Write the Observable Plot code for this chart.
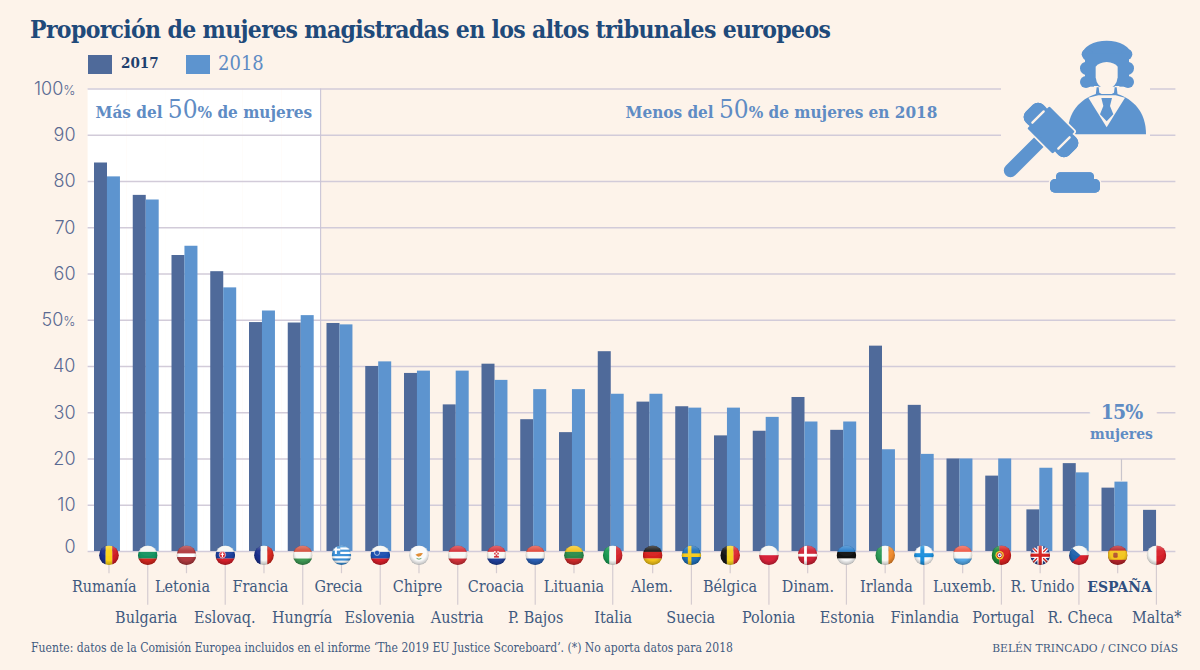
<!DOCTYPE html>
<html><head><meta charset="utf-8">
<script src="https://cdn.jsdelivr.net/npm/d3@7"></script>
<script src="https://cdn.jsdelivr.net/npm/@observablehq/plot@0.6"></script>
<style>
html,body{margin:0;padding:0;background:#fdf3ea;}
body{width:1200px;height:670px;position:relative;overflow:hidden;font-family:"DejaVu Serif Condensed","DejaVu Serif",serif;}
#head{position:relative;height:75px;}
h1{position:absolute;left:30px;top:14px;margin:0;font-size:24.5px;line-height:32px;font-weight:700;letter-spacing:-.67px;color:#1f4a7a;white-space:nowrap;}
.sw{position:absolute;top:55px;width:24px;height:19px;}
.lg{position:absolute;white-space:nowrap;}
#cap{position:relative;height:40px;color:#3f5a80;}
#cap span{position:absolute;top:11px;white-space:nowrap;}
#chart svg{display:block;background:transparent;}
#icon{position:absolute;left:950px;top:20px;}
</style></head><body>
<div id="head">
<h1>Proporción de mujeres magistradas en los altos tribunales europeos</h1>
<div class="sw" style="left:88px;background:#4f6a9a"></div>
<div class="lg" style="left:121px;top:54px;font-size:15px;font-weight:700;color:#1f3f6e">2017</div>
<div class="sw" style="left:186px;background:#5d94cf"></div>
<div class="lg" style="left:218px;top:51px;font-size:20px;color:#5f8cc4">2018</div>
</div>
<div id="chart"></div>
<div id="cap"><span style="left:31px;font-size:12.05px">Fuente: datos de la Comisión Europea incluidos en el informe ‘The 2019 EU Justice Scoreboard’. (*) No aporta datos para 2018</span><span style="right:22px;font-size:11.9px">BELÉN TRINCADO / CINCO DÍAS</span></div>
<svg id="icon" width="250" height="190" viewBox="0 0 750 570">
<rect x="153" y="150" width="447" height="210" fill="#fdf3ea"/>
<g fill="#5d94cf">
<ellipse cx="470" cy="103" rx="72" ry="41"/><circle cx="412" cy="103" r="17"/><circle cx="530" cy="103" r="17"/>
<circle cx="410" cy="145" r="20"/><circle cx="532" cy="145" r="20"/><circle cx="408" cy="186" r="18"/><circle cx="534" cy="186" r="18"/>
<rect x="405" y="100" width="132" height="100"/>
</g>
<path d="M437 140Q446 128 470 126Q494 128 503 140L503 172Q500 203 470 209Q440 203 437 172Z" fill="#fdf3ea"/>
<path d="M432 198L445 198L447 212Q470 228 493 212L495 198L508 198L510 232L430 232Z" fill="#fdf3ea"/>
<path d="M440 202L446 202L448 218Q470 234 492 218L494 202L500 202L503 226L437 226Z" fill="#5d94cf"/>
<path d="M353 343C353 275 390 238 438 222L502 222C550 238 588 275 588 343Z" fill="#5d94cf"/>
<path d="M415 233L445 226L497 226L525 233L470 322Z" fill="#fdf3ea"/>
<path d="M454 234L486 234L480 258L490 283L470 304L450 283L460 258Z" fill="#5d94cf"/>
<g transform="translate(303 330) rotate(45)">
<rect x="-20" y="0" width="40" height="192" rx="20" fill="#5d94cf"/>
<g fill="#5d94cf" stroke="#fdf3ea" stroke-width="10" paint-order="stroke">
<rect x="-92" y="-37" width="184" height="74" rx="22"/>
<rect x="-54" y="-47" width="108" height="94" rx="4"/>
</g>
<rect x="-92" y="-37" width="184" height="74" rx="22" fill="#5d94cf"/>
<path d="M-55 -24V24M55 -24V24" stroke="#fdf3ea" stroke-width="7" stroke-linecap="round"/>
</g>
<g fill="#5d94cf" stroke="#fdf3ea" stroke-width="10" paint-order="stroke">
<rect x="318" y="457" width="114" height="36" rx="13"/>
<rect x="300" y="477" width="150" height="41" rx="15"/>
</g>
<g fill="#5d94cf"><rect x="318" y="457" width="114" height="36" rx="13"/><rect x="300" y="477" width="150" height="41" rx="15"/></g>
</svg>
<script>
const countries = ["Rumanía","Bulgaria","Letonia","Eslovaq.","Francia","Hungría","Grecia","Eslovenia","Chipre","Austria","Croacia","P. Bajos","Lituania","Italia","Alem.","Suecia","Bélgica","Polonia","Dinam.","Estonia","Irlanda","Finlandia","Luxemb.","Portugal","R. Unido","R. Checa","ESPAÑA","Malta*"];
const values2017 = [84,77,64,60.5,49.5,49.4,49.3,40,38.5,31.7,40.5,28.5,25.7,43.2,32.3,31.3,25,26,33.3,26.2,44.4,31.6,20,16.3,9,19,13.7,8.9];
const values2018 = [81,76,66,57,52,51,49,41,39,39,37,35,35,34,34,31,31,29,28,28,22,21,20,20,18,17,15,null];
const yTicks = [0,10,20,30,40,50,60,70,80,90,100];
const above50 = countries.slice(0,6);

const PAPER="#fdf3ea", C17="#4f6a9a", C18="#5d94cf", GRID="#d2cbd9", INK="#3f5a80", SOFT="#5f8cc4";
const SERIF='"DejaVu Serif Condensed","DejaVu Serif",serif';

// layout tweaks (px), kept apart from the data
const labelNudge=[-3.2,0,-2.5,1,-2,1,-1.5,1,0,1,1,2,1.5,2,2,2,2.5,2.5,3,3.5,4,3.5,4.5,4.5,5,4,4.5,3];
const barNudge={"R. Unido":2.4,"Malta*":2.8};

const V=(...c)=>c.map((k,i)=>`<rect x="${i*100/c.length}" y="0" width="${100/c.length+.5}" height="100" fill="${k}"/>`).join("");
const H=(...c)=>c.map((k,i)=>`<rect y="${i*100/c.length}" x="0" height="${100/c.length+.5}" width="100" fill="${k}"/>`).join("");
const cross=(bg,fg,w=18)=>`<rect width="100" height="100" fill="${bg}"/><rect x="32" width="${w}" height="100" fill="${fg}"/><rect y="${50-w/2}" width="100" height="${w}" fill="${fg}"/>`;
const flagArt={
"Rumanía":V("#1b2f8c","#fcd116","#d01c24"),
"Bulgaria":H("#f6f6f2","#12935f","#d5261e"),
"Letonia":`<rect width="100" height="100" fill="#b03a3f"/><rect y="41" width="100" height="18" fill="#fff"/>`,
"Eslovaq.":H("#f6f6f2","#1b3f9c","#d81e2a")+`<circle cx="36" cy="48" r="16" fill="#d81e2a" stroke="#fff" stroke-width="3"/><rect x="33" y="36" width="6" height="24" fill="#fff"/><rect x="27" y="43" width="18" height="5" fill="#fff"/>`,
"Francia":V("#1b2f8c","#f6f6f2","#d5261e"),
"Hungría":H("#d4503e","#f8f8f4","#3f9a55"),
"Grecia":`<rect width="100" height="100" fill="#fff"/>`+[0,22,44,66,88].map(y=>`<rect y="${y}" width="100" height="11" fill="#3a8fd6"/>`).join("")+`<rect width="44" height="44" fill="#3a8fd6"/><rect x="17" width="10" height="44" fill="#fff"/><rect y="17" width="44" height="10" fill="#fff"/>`,
"Eslovenia":H("#f6f6f2","#1b4fb0","#d81e2a")+`<circle cx="34" cy="38" r="13" fill="#1b4fb0" stroke="#fff" stroke-width="3"/>`,
"Chipre":`<rect width="100" height="100" fill="#fafafa"/><path d="M32 48Q50 36 70 40Q62 56 46 58Z" fill="#e08a2e"/><path d="M38 66Q50 74 62 66" stroke="#4a9a55" stroke-width="4" fill="none"/>`,
"Austria":H("#d5323a","#f8f8f4","#d5323a"),
"Croacia":H("#d5323a","#f8f8f4","#20409c")+`<rect x="38" y="30" width="24" height="32" fill="#d5323a"/><rect x="38" y="30" width="8" height="8" fill="#fff"/><rect x="54" y="30" width="8" height="8" fill="#fff"/><rect x="46" y="38" width="8" height="8" fill="#fff"/><rect x="38" y="46" width="8" height="8" fill="#fff"/><rect x="54" y="46" width="8" height="8" fill="#fff"/>`,
"P. Bajos":H("#e04a3c","#f8f8f4","#2a5fb5"),
"Lituania":H("#f2c21c","#2a8a4a","#cf2a2a"),
"Italia":V("#1a9a52","#f8f8f4","#d5262e"),
"Alem.":H("#1a1a1a","#d5201e","#f4c41a"),
"Suecia":cross("#1f6fb8","#f6cb1d"),
"Bélgica":V("#161616","#f4d21f","#dc2a30"),
"Polonia":H("#f6f6f2","#d8223a"),
"Dinam.":cross("#cf2236","#fff",14),
"Estonia":H("#2a7ecb","#111","#f8f8f8"),
"Irlanda":V("#2a9a55","#f8f8f4","#ef8a2c"),
"Finlandia":cross("#fafafa","#1b8fdc",20),
"Luxemb.":H("#ee5a48","#f8f8f4","#55a8e6"),
"Portugal":`<rect width="40" height="100" fill="#1e8a3a"/><rect x="40" width="60" height="100" fill="#d6201f"/><circle cx="41" cy="50" r="21" fill="#f2cf2a"/><circle cx="41" cy="50" r="13" fill="#fff" stroke="#c8201c" stroke-width="5"/><circle cx="41" cy="50" r="5" fill="#1b3f9c"/>`,
"R. Unido":`<rect width="100" height="100" fill="#23408f"/><path d="M0 0L100 100M100 0L0 100" stroke="#fff" stroke-width="18"/><path d="M0 0L100 100M100 0L0 100" stroke="#d5201e" stroke-width="7"/><rect x="36" width="28" height="100" fill="#fff"/><rect y="36" width="100" height="28" fill="#fff"/><rect x="42" width="16" height="100" fill="#d5201e"/><rect y="42" width="100" height="16" fill="#d5201e"/>`,
"R. Checa":H("#f6f6f2","#d9222e")+`<path d="M0 0L58 50L0 100Z" fill="#1f62ac"/>`,
"ESPAÑA":`<rect width="100" height="100" fill="#b8242a"/><rect y="27" width="100" height="46" fill="#f4c61f"/><rect x="28" y="38" width="22" height="25" rx="6" fill="#b4532e"/>`,
"Malta*":V("#f6f6f2","#d8202a")
};
const flagSrc=c=>"data:image/svg+xml,"+encodeURIComponent(`<svg xmlns="http://www.w3.org/2000/svg" viewBox="0 0 100 100" width="100" height="100"><defs><clipPath id="c"><circle cx="50" cy="50" r="49"/></clipPath><radialGradient id="g" cx="50%" cy="40%" r="60%"><stop offset="0.6" stop-color="#000" stop-opacity="0"/><stop offset="1" stop-color="#000" stop-opacity=".28"/></radialGradient><linearGradient id="s" x1="0" x2="0" y1="0" y2="1"><stop offset="0" stop-color="#fff" stop-opacity=".28"/><stop offset=".5" stop-color="#fff" stop-opacity=".04"/></linearGradient></defs><g clip-path="url(#c)">${flagArt[c]}<circle cx="50" cy="50" r="50" fill="url(#g)"/><ellipse cx="50" cy="28" rx="40" ry="26" fill="url(#s)"/></g><circle cx="50" cy="50" r="48.5" fill="none" stroke="#000" stroke-opacity=".12" stroke-width="2"/></svg>`);

const table=countries.map((c,i)=>({country:c,v17:values2017[i],v18:values2018[i],row:i%2,i}));
const plain=table.filter(d=>!(d.country in barNudge));
const nudged=table.filter(d=>d.country in barNudge);
const tickLabel=d=>(d===100||d===50)?d+"%":String(d);
const tickStyle={text:tickLabel,frameAnchor:"left",dx:-12.6,textAnchor:"end",fontFamily:"Inter",fontWeight:300,fontSize:18,fill:"#5a6a92"};
const labelSize=16;
const bars=(rows,dx)=>[
  Plot.barY(rows,{x:"country",y:"v17",fill:C17,insetLeft:6.4,insetRight:19.35,dx}),
  Plot.barY(rows.filter(d=>d.v18!=null),{x:"country",y:"v18",fill:C18,insetLeft:19.35,insetRight:6.4,dx})
];
const flagMarks=(rows,dx)=>[
  Plot.ruleX(rows.filter(d=>d.row===0),{x:"country",y1:-2.8,y2:-4.8,stroke:"#d5ccd0",strokeWidth:1.2,dx}),
  Plot.ruleX(rows.filter(d=>d.row===1),{x:"country",y1:-2.8,y2:-11.6,stroke:"#d5ccd0",strokeWidth:1.2,dx}),
  Plot.image(rows,{x:"country",y:()=>-0.8,width:20,height:20,src:d=>flagSrc(d.country),dx})
];

const svg=Plot.plot({
  width:1200,height:555,marginTop:13.5,marginRight:24.6,marginBottom:79,marginLeft:87.6,
  style:{background:"transparent",fontFamily:SERIF,overflow:"visible"},
  x:{domain:countries,padding:0,round:false,axis:null,range:[87.6,1172.6]},
  y:{domain:[0,100],axis:null},
  marks:[
    Plot.barY(above50,{x:d=>d,y:()=>100,fill:"#fff"}),
    Plot.ruleY(yTicks,{stroke:GRID,strokeWidth:1.5}),
    Plot.ruleX(["Hungría"],{y1:0,y2:100,stroke:"#c9c4d6",strokeWidth:1.1,dx:19.4}),
    bars(plain,0),
    nudged.map(d=>bars([d],barNudge[d.country])),
    flagMarks(table.filter(d=>d.i<14),1.5),
    flagMarks(table.filter(d=>d.i>=14),2.7),
    table.map(d=>Plot.text([d],{x:"country",y:()=>d.row?-14.4:-7.7,text:"country",dx:labelNudge[d.i],
      fontSize:d.country==="ESPAÑA"?labelSize-.5:labelSize,
      fontWeight:d.country==="ESPAÑA"?700:400,
      fill:d.country==="ESPAÑA"?"#2f4f80":INK})),
    Plot.text(yTicks.slice(1),{y:d=>d,...tickStyle}),
    Plot.text(yTicks.slice(0,1),{y:d=>d,dy:-4,...tickStyle}),
    Plot.text(["Más del 50% de mujeres"],{x:()=>countries[0],y:()=>94.9,text:d=>d,textAnchor:"start",dx:-12,fontSize:17,fontWeight:600,fill:SOFT}),
    Plot.text(["Menos del 50% de mujeres en 2018"],{x:()=>"Italia",y:()=>94.9,text:d=>d,textAnchor:"start",dx:14.25,fontSize:17,fontWeight:600,fill:SOFT}),
    Plot.ruleX(["ESPAÑA"],{y1:15.2,y2:19.9,stroke:"#c9c5cc",strokeWidth:1.2,dx:6.5}),
    Plot.text(["15%"],{x:()=>"ESPAÑA",y:()=>30,text:d=>d,dx:6.5,fontSize:21,fontWeight:700,fill:SOFT,stroke:PAPER,strokeWidth:28,paintOrder:"stroke"}),
    Plot.text(["mujeres"],{x:()=>"ESPAÑA",y:()=>25.3,text:d=>d,dx:6.5,fontSize:15.5,fontWeight:700,fill:SOFT})
  ]
});
document.getElementById("chart").append(svg);
svg.querySelectorAll("text").forEach(t=>{
  const s=t.textContent;
  if(s==="15%") t.setAttribute("letter-spacing","-1");
  else if(/^\d+%$/.test(s)) t.innerHTML=s.replace("%",'<tspan font-size="13">%</tspan>');
  else if(s.includes("50%")) t.innerHTML=s.replace("50",'<tspan font-size="26" font-weight="500">50</tspan>');
});
</script>
</body></html>
